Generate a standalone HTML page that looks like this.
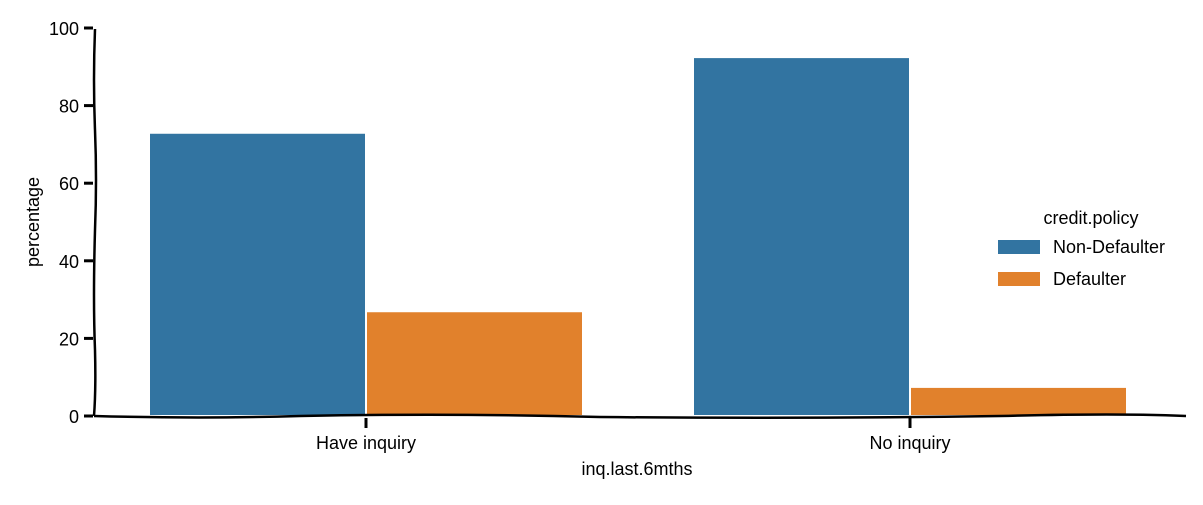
<!DOCTYPE html>
<html><head><meta charset="utf-8"><style>
html,body{margin:0;padding:0;background:#fff}
svg text{font-family:"Liberation Sans",sans-serif;fill:#000}
</style></head><body>
<svg id="chart" width="1203" height="500" viewBox="0 0 1203 500" xmlns="http://www.w3.org/2000/svg">
<g id="bars"></g>
<g id="axes"></g>
<g id="legend"></g>
</svg>
<script>
const categories = ["Have inquiry", "No inquiry"];
const seriesNames = ["Non-Defaulter", "Defaulter"];
const nonDefaulter = [73, 92.5];
const defaulter = [27, 7.5];
const yTicks = [0, 20, 40, 60, 80, 100];

const NS = "http://www.w3.org/2000/svg";
const colors = ["#3274a1", "#e1812c"];
const y0 = 416, yTop = 28;
const yScale = v => y0 - (v / 100) * (y0 - yTop);
const catCenter = i => 366 + i * 544;
const barW = 217;
function mk(tag, attrs, parent, txt) {
  const e = document.createElementNS(NS, tag);
  for (const k in attrs) e.setAttribute(k, attrs[k]);
  if (txt !== undefined) e.textContent = txt;
  parent.appendChild(e);
  return e;
}
const bars = document.getElementById("bars");
const axes = document.getElementById("axes");
const legend = document.getElementById("legend");
const series = [nonDefaulter, defaulter];
series.forEach((vals, s) => {
  vals.forEach((v, i) => {
    const x = catCenter(i) - barW + s * barW;
    const y = yScale(v);
    const r = mk("rect", {x: x, y: y, width: barW, height: y0 - y, fill: colors[s], stroke: "#fff", "stroke-width": 2}, bars);
    
    
  });
});
const ys = mk("path", {d: "M95 29 Q93 80 95 130 Q97 180 95 230 Q93 300 95 350 Q96 390 94 416", fill: "none", stroke: "#000", "stroke-width": 2.5}, axes);


const xs = mk("path", {d: "M94 416 Q200 419 300 416 Q450 413 600 417 Q800 419 1000 416 Q1120 413 1186 416", fill: "none", stroke: "#000", "stroke-width": 2.5}, axes);


yTicks.forEach(t => {
  const y = yScale(t);
  const l = mk("line", {x1: 84, x2: 93, y1: y, y2: y, stroke: "#000", "stroke-width": 3}, axes);
  
  
  const tx = mk("text", {x: 79, y: y + 7, "text-anchor": "end", "font-size": 18}, axes, String(t));
  
  
});
categories.forEach((c, i) => {
  const x = catCenter(i);
  const l = mk("line", {x1: x, x2: x, y1: 418, y2: 428, stroke: "#000", "stroke-width": 3}, axes);
  
  
  const tx = mk("text", {x: x, y: 449, "text-anchor": "middle", "font-size": 18}, axes, c);
  
  
});
const xt = mk("text", {x: 637, y: 475, "text-anchor": "middle", "font-size": 18}, axes, "inq.last.6mths");


const yt = mk("text", {x: 0, y: 0, "text-anchor": "middle", "font-size": 18, transform: "translate(39 222) rotate(-90)"}, axes, "percentage");


const lt = mk("text", {x: 1091, y: 224, "text-anchor": "middle", "font-size": 18}, legend, "credit.policy");


seriesNames.forEach((n, s) => {
  const y = 240 + s * 32;
  const p = mk("rect", {x: 998, y: y, width: 42, height: 14, fill: colors[s]}, legend);
  
  
  const t = mk("text", {x: 1053, y: y + 13, "font-size": 18}, legend, n);
  
  
});
</script>
</body></html>
